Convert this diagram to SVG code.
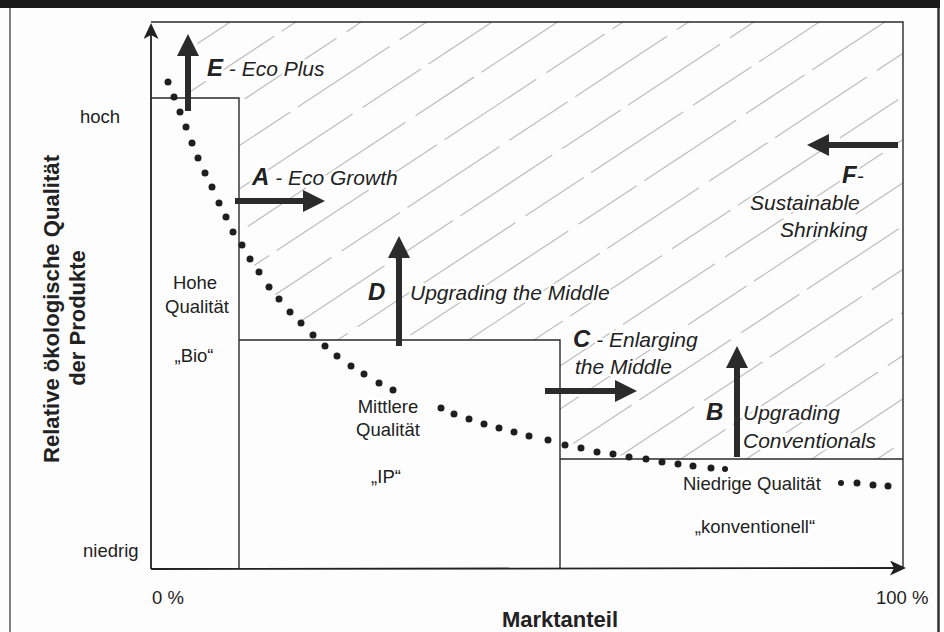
<svg xmlns="http://www.w3.org/2000/svg" width="944" height="632" viewBox="0 0 944 632">
<style>
  text { font-family: "Liberation Sans", Arial, sans-serif; fill: #222; }
  .lbl { font-size: 18.5px; }
  .it { font-size: 21px; font-style: italic; }
  .b { font-size: 24px; font-weight: bold; font-style: italic; }
  .ax { font-size: 22px; font-weight: bold; }
  .halo { stroke: #fff; stroke-width: 5; stroke-linejoin: round; paint-order: stroke; }
  .box { fill: none; stroke: #2a2a2a; stroke-width: 1.4; }
  .hatch { fill: none; stroke: #bdbdbd; stroke-width: 1.2; stroke-dasharray: 110 12 70 9; }
  .dot { fill: #1e1e1e; }
  .arr { stroke: #2b2b2b; stroke-width: 6; fill: none; marker-end: url(#head); }
  .axis { stroke: #222; stroke-width: 1.8; fill: none; marker-end: url(#axhead); }
</style>
<defs>
  <marker id="head" markerUnits="userSpaceOnUse" markerWidth="22" markerHeight="22" viewBox="0 0 22 22" refX="1" refY="11" orient="auto">
    <path d="M0,0 L22,11 L0,22 z" fill="#2b2b2b"/>
  </marker>
  <marker id="axhead" markerUnits="userSpaceOnUse" markerWidth="16" markerHeight="15" viewBox="0 0 16 15" refX="14" refY="7.5" orient="auto">
    <path d="M0,0 L16,7.5 L0,15 L4,7.5 z" fill="#222"/>
  </marker>
  <clipPath id="hclip">
    <path d="M200,22 L903,22 L903,459 L646,459 L629,457 L613,454 L597,452 L581,448 L565,445 L560,443 L560,340 L316,340 L313,335 L301,323 L290,312 L279,299 L269,287 L259,272 L250,259 L242,245 L239,241 L239,98 L190,98 z"/>
  </clipPath>
</defs>

<rect x="0" y="0" width="944" height="632" fill="#fdfdfd"/>

<g id="frame">
  <rect x="0" y="0" width="940" height="8" fill="#1a1a1a"/>
  <line x1="10" y1="8" x2="10" y2="632" stroke="#555" stroke-width="1.5"/>
  <line x1="938.5" y1="8" x2="938.5" y2="632" stroke="#333" stroke-width="2.5"/>
</g>

<g id="hatching" clip-path="url(#hclip)">
  <path class="hatch" d="M151,74.3 L903,-422 M114,142 L903,-378.8 M77,209.6 L903,-335.6 M130,217.8 L903,-292.4 M93,285.4 L903,-249.2 M146,293.6 L903,-206 M109,361.3 L903,-162.8 M72,428.9 L903,-119.6 M125,437.1 L903,-76.4 M88,504.7 L903,-33.2 M141,512.9 L903,10 M104,580.6 L903,53.2 M67,648.2 L903,96.4 M120,656.4 L903,139.6 M83,724 L903,182.8 M136,732.2 L903,226 M99,799.9 L903,269.2 M62,867.5 L903,312.4 M115,875.7 L903,355.6 M78,943.3 L903,398.8 M131,951.5 L903,442"/>
</g>

<g id="plot-frame">
  <polyline class="box" points="151,22 903,22 903,569"/>
</g>

<g id="box-bio">
  <polyline class="box" points="151,98 239,98 239,569"/>
  <text class="lbl halo" x="195" y="289" text-anchor="middle">Hohe</text>
  <text class="lbl halo" x="197" y="313" text-anchor="middle">Qualität</text>
  <text class="lbl halo" x="194" y="362" text-anchor="middle">„Bio“</text>
</g>

<g id="box-ip">
  <polyline class="box" points="239,340 560,340 560,569"/>
</g>

<g id="box-conv">
  <polyline class="box" points="560,459 903,459"/>
</g>

<g id="curve">
  <circle class="dot" cx="168" cy="82" r="3.5"/><circle class="dot" cx="174" cy="97" r="3.5"/><circle class="dot" cx="180" cy="112" r="3.5"/><circle class="dot" cx="186" cy="127" r="3.5"/><circle class="dot" cx="192" cy="143" r="3.5"/><circle class="dot" cx="198" cy="158" r="3.5"/><circle class="dot" cx="205" cy="173" r="3.5"/><circle class="dot" cx="212" cy="187" r="3.5"/><circle class="dot" cx="219" cy="203" r="3.5"/><circle class="dot" cx="226" cy="217" r="3.5"/><circle class="dot" cx="233" cy="232" r="3.5"/><circle class="dot" cx="242" cy="245" r="3.5"/><circle class="dot" cx="250" cy="259" r="3.5"/><circle class="dot" cx="259" cy="272" r="3.5"/><circle class="dot" cx="269" cy="287" r="3.5"/><circle class="dot" cx="279" cy="299" r="3.5"/><circle class="dot" cx="290" cy="312" r="3.5"/><circle class="dot" cx="301" cy="323" r="3.5"/><circle class="dot" cx="313" cy="335" r="3.5"/><circle class="dot" cx="325" cy="346" r="3.5"/><circle class="dot" cx="337" cy="356" r="3.5"/><circle class="dot" cx="351" cy="366" r="3.5"/><circle class="dot" cx="364" cy="374" r="3.5"/><circle class="dot" cx="379" cy="383" r="3.5"/><circle class="dot" cx="393" cy="390" r="3.5"/>
  <circle class="dot" cx="441" cy="408" r="3.5"/><circle class="dot" cx="454" cy="414" r="3.5"/><circle class="dot" cx="469" cy="419" r="3.5"/><circle class="dot" cx="484" cy="424" r="3.5"/><circle class="dot" cx="499" cy="428" r="3.5"/><circle class="dot" cx="514" cy="432" r="3.5"/><circle class="dot" cx="529" cy="436" r="3.5"/><circle class="dot" cx="548" cy="440" r="3.5"/><circle class="dot" cx="565" cy="445" r="3.5"/><circle class="dot" cx="581" cy="448" r="3.5"/><circle class="dot" cx="597" cy="452" r="3.5"/><circle class="dot" cx="613" cy="454" r="3.5"/><circle class="dot" cx="629" cy="457" r="3.5"/><circle class="dot" cx="646" cy="459" r="3.5"/><circle class="dot" cx="662" cy="462" r="3.5"/><circle class="dot" cx="678" cy="464" r="3.5"/><circle class="dot" cx="693" cy="466" r="3.5"/><circle class="dot" cx="711" cy="468" r="3.5"/><circle class="dot" cx="725" cy="469" r="3"/>
  <circle class="dot" cx="841" cy="483" r="3"/><circle class="dot" cx="857" cy="483" r="3.5"/><circle class="dot" cx="873" cy="485" r="3.5"/><circle class="dot" cx="888" cy="486" r="3.5"/>
</g>

<g id="ip-labels">
  <text class="lbl halo" x="388" y="413" text-anchor="middle">Mittlere</text>
  <text class="lbl halo" x="388" y="436" text-anchor="middle">Qualität</text>
  <text class="lbl halo" x="386" y="483" text-anchor="middle">„IP“</text>
</g>

<g id="conv-labels">
  <text class="lbl halo" x="683" y="490">Niedrige Qualität</text>
  <text class="lbl halo" x="755" y="533" text-anchor="middle">„konventionell“</text>
</g>

<g id="axes">
  <line class="axis" x1="151" y1="569" x2="151" y2="25"/>
  <line class="axis" x1="151" y1="569" x2="904" y2="568"/>
  <text class="lbl" x="80" y="123">hoch</text>
  <text class="lbl" x="83" y="557">niedrig</text>
  <text class="lbl" x="152" y="604">0 %</text>
  <text class="lbl" x="876" y="604">100 %</text>
  <text class="ax" x="560" y="627" text-anchor="middle" font-size="21">Marktanteil</text>
  <text class="ax" transform="translate(59,309) rotate(-90)" text-anchor="middle" textLength="308" lengthAdjust="spacingAndGlyphs">Relative ökologische Qualität</text>
  <text class="ax" transform="translate(85,318) rotate(-90)" text-anchor="middle">der Produkte</text>
</g>

<g id="strategy-labels">
  <text class="it halo" x="207" y="76"><tspan class="b">E</tspan> - Eco Plus</text>
  <text class="it halo" x="252" y="185"><tspan class="b">A</tspan> - Eco Growth</text>
  <text class="b halo" x="368" y="300">D</text>
  <text class="it halo" x="410" y="300">Upgrading the Middle</text>
  <text class="it halo" x="573" y="347"><tspan class="b">C</tspan> - Enlarging</text>
  <text class="it halo" x="575" y="374">the Middle</text>
  <text class="b halo" x="706" y="420">B</text>
  <text class="it halo" x="743" y="420">Upgrading</text>
  <text class="it halo" x="743" y="448">Conventionals</text>
  <text class="it halo" x="842" y="183"><tspan class="b">F</tspan>-</text>
  <text class="it halo" x="750" y="210">Sustainable</text>
  <text class="it halo" x="780" y="237">Shrinking</text>
</g>

<g id="connectors">
  <line class="arr" x1="188" y1="111" x2="188" y2="55"/>
  <line class="arr" x1="235" y1="201" x2="304" y2="201"/>
  <line class="arr" x1="399" y1="346" x2="399" y2="257"/>
  <line class="arr" x1="545" y1="391" x2="616" y2="391"/>
  <line class="arr" x1="737" y1="457" x2="737" y2="367"/>
  <line class="arr" x1="898" y1="145" x2="828" y2="145"/>
</g>
</svg>
